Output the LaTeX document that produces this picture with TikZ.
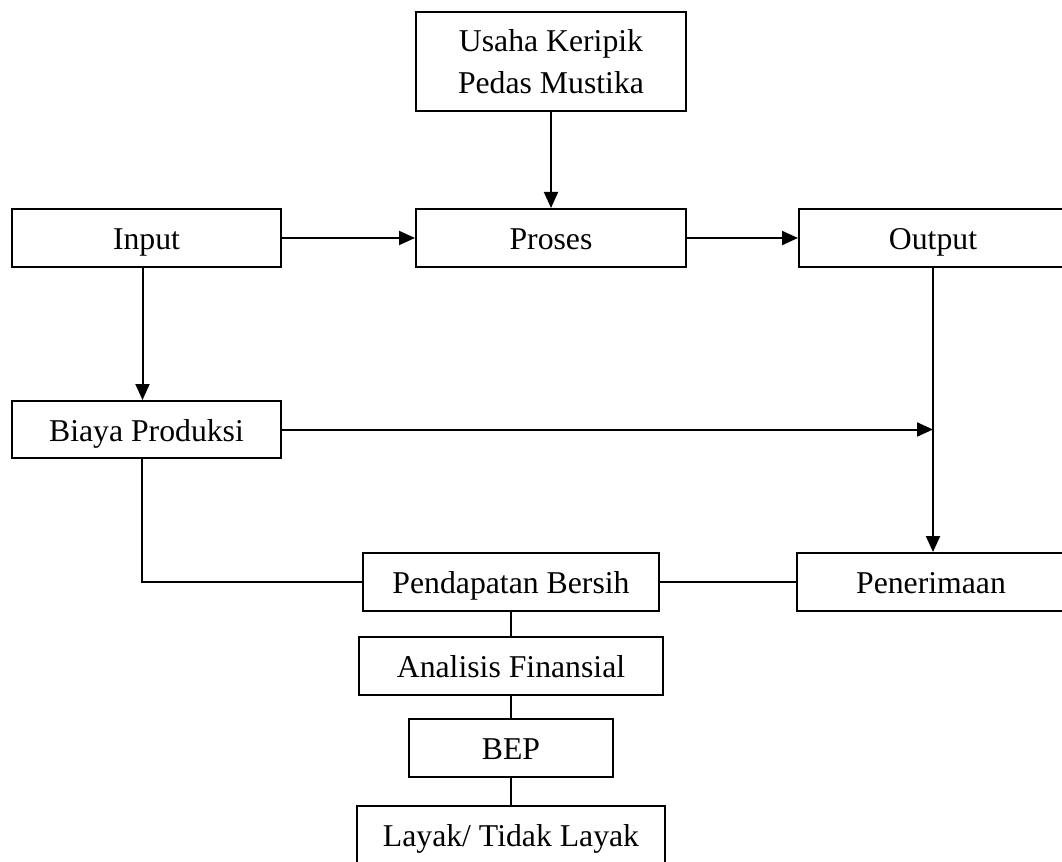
\documentclass[tikz,border=0pt]{standalone}
\usepackage{fontspec}
\setmainfont{Liberation Serif}
\usetikzlibrary{arrows.meta,calc}
\begin{document}
\begin{tikzpicture}[x=0.75pt,y=-0.75pt,
  boxbase/.style={draw,line width=1.5pt,rectangle,inner sep=0pt,align=center,
    font=\fontsize{23.8}{31}\selectfont},
  box/.style={boxbase,text height=17.4pt,text depth=0pt},
  conn/.style={line width=1.5pt},
  arr/.style={conn,-{Triangle[length=12pt,width=10.5pt]}}]
\clip (0,0) rectangle (1062,862);
\fill[white] (0,0) rectangle (1062,862);
\node[boxbase,minimum width=270*0.75pt,minimum height=99*0.75pt] (usaha) at (551,61.5) {Usaha Keripik\\Pedas Mustika};
\node[box,minimum width=269*0.75pt,minimum height=58*0.75pt] (input) at (146.5,238) {Input};
\node[box,minimum width=270*0.75pt,minimum height=58*0.75pt] (proses) at (551,238) {Proses};
\node[box,minimum width=268*0.75pt,minimum height=58*0.75pt] (output) at (933,238) {Output};
\node[box,minimum width=269*0.75pt,minimum height=57*0.75pt] (biaya) at (146.5,429.5) {Biaya Produksi};
\node[box,minimum width=296*0.75pt,minimum height=58*0.75pt] (pendapatan) at (511,582) {Pendapatan Bersih};
\node[box,minimum width=268*0.75pt,minimum height=58*0.75pt] (penerimaan) at (931,582) {Penerimaan};
\node[box,minimum width=304*0.75pt,minimum height=58*0.75pt] (analisis) at (511,666) {Analisis Finansial};
\node[box,minimum width=204*0.75pt,minimum height=58*0.75pt] (bep) at (511,748) {BEP};
\node[box,minimum width=308*0.75pt,minimum height=58*0.75pt] (layak) at (511,835) {Layak/ Tidak Layak};
\coordinate (join) at (output.south |- biaya.east);
\draw[arr] (usaha.south) -- (proses.north);
\draw[arr] (input.east) -- (proses.west);
\draw[arr] (proses.east) -- (output.west);
\draw[arr] ($(input.south)+(-4,0)$) -- ($(biaya.north)+(-4,0)$);
\draw[arr] (output.south) -- (output.south |- penerimaan.north);
\draw[arr] (biaya.east) -- (join);
\draw[conn] ($(biaya.south)+(-5,0)$) |- (pendapatan.west);
\draw[conn] (pendapatan.east) -- (penerimaan.west);
\draw[conn] (pendapatan.south) -- (analisis.north);
\draw[conn] (analisis.south) -- (bep.north);
\draw[conn] (bep.south) -- (layak.north);
\end{tikzpicture}
\end{document}
